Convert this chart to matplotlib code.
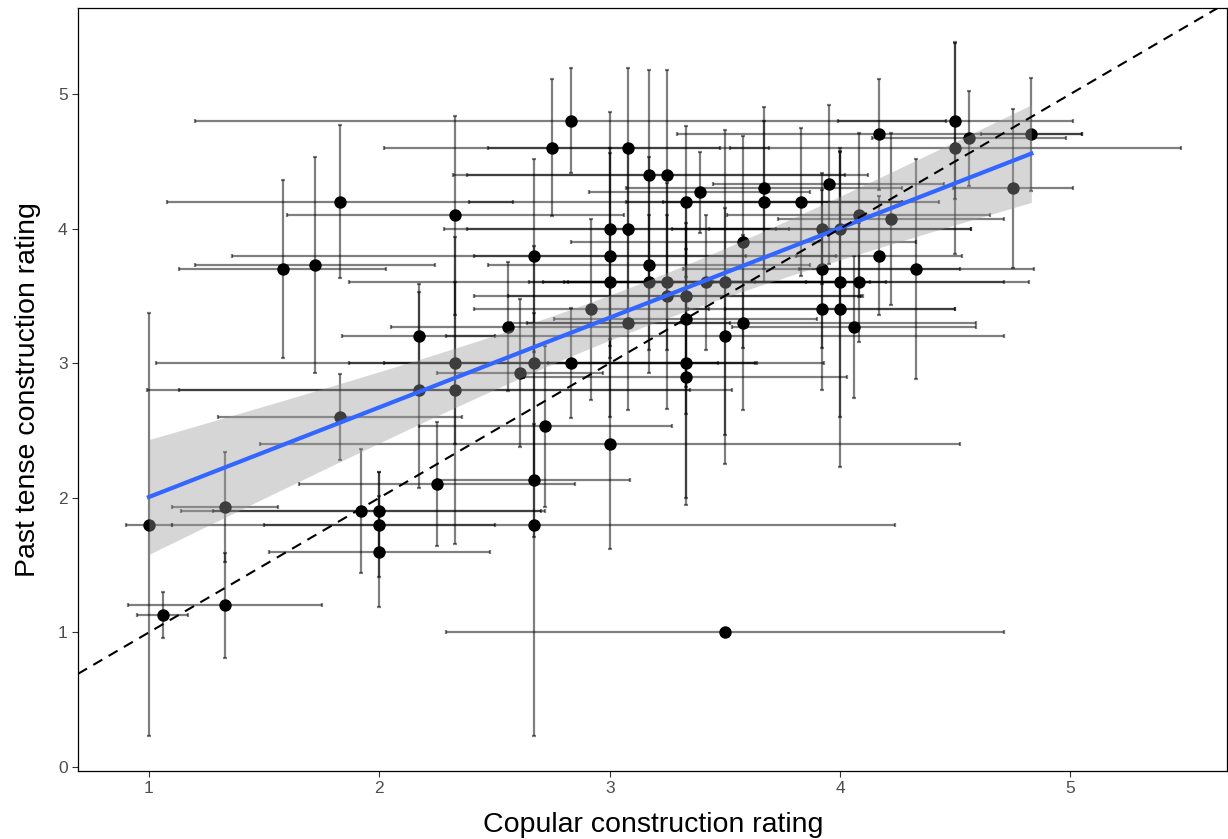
import numpy as np
import matplotlib
matplotlib.use("Agg")
import matplotlib.pyplot as plt

# ---- data (copular rating x, past tense rating y, and their error half-widths) ----
copular = [1.00, 1.06, 1.33, 1.33, 1.58, 1.72, 1.83, 1.83, 1.92, 2.00,
           2.00, 2.00, 2.17, 2.17, 2.25, 2.33, 2.33, 2.33, 2.56, 2.61,
           2.67, 2.67, 2.67, 2.67, 2.72, 2.75, 2.83, 2.83, 2.92, 3.00,
           3.00, 3.00, 3.00, 3.08, 3.08, 3.08, 3.17, 3.17, 3.17, 3.25,
           3.25, 3.25, 3.33, 3.33, 3.33, 3.33, 3.33, 3.39, 3.42, 3.50,
           3.50, 3.50, 3.58, 3.58, 3.67, 3.67, 3.83, 3.92, 3.92, 3.92,
           3.95, 4.00, 4.00, 4.00, 4.06, 4.08, 4.08, 4.17, 4.17, 4.22,
           4.33, 4.50, 4.50, 4.56, 4.75, 4.83]
past = [1.80, 1.13, 1.20, 1.93, 3.70, 3.73, 4.20, 2.60, 1.90, 1.90,
        1.80, 1.60, 3.20, 2.80, 2.10, 4.10, 3.00, 2.80, 3.27, 2.93,
        3.00, 3.80, 2.13, 1.80, 2.53, 4.60, 4.80, 3.00, 3.40, 4.00,
        3.80, 3.60, 2.40, 4.60, 4.00, 3.30, 4.40, 3.73, 3.60, 4.40,
        3.60, 3.50, 4.20, 3.50, 3.33, 3.00, 2.90, 4.27, 3.60, 3.60,
        3.20, 1.00, 3.90, 3.30, 4.30, 4.20, 4.20, 4.00, 3.70, 3.40,
        4.33, 4.00, 3.60, 3.40, 3.27, 4.10, 3.60, 4.70, 3.80, 4.07,
        3.70, 4.80, 4.60, 4.67, 4.30, 4.70]
copular_err = [0.10, 0.11, 0.42, 0.23, 0.45, 0.52, 0.75, 0.53, 0.78, 0.72,
               0.50, 0.48, 0.33, 1.18, 0.60, 0.73, 1.30, 1.20, 0.51, 0.36,
               0.80, 1.31, 0.42, 1.57, 0.55, 0.73, 1.63, 0.81, 0.51, 0.72,
               0.59, 1.13, 1.52, 0.61, 0.70, 0.44, 0.85, 0.70, 0.46, 0.87,
               0.60, 0.84, 0.94, 0.77, 0.57, 0.60, 0.70, 0.48, 0.60, 0.70,
               1.21, 1.21, 0.75, 1.01, 0.60, 0.60, 0.60, 0.65, 0.60, 0.58,
               0.50, 0.57, 0.82, 0.50, 0.53, 0.57, 0.63, 0.88, 0.36, 0.49,
               0.51, 0.51, 0.98, 0.42, 0.26, 0.22]
past_err = [1.57, 0.17, 0.39, 0.41, 0.66, 0.80, 0.57, 0.32, 0.46, 0.29,
            0.39, 0.41, 0.39, 0.73, 0.46, 0.74, 0.60, 1.14, 0.48, 0.55,
            0.87, 0.72, 0.42, 1.57, 0.60, 0.51, 0.39, 0.41, 0.67, 0.87,
            0.76, 1.00, 0.78, 0.59, 0.60, 0.65, 0.78, 0.80, 0.50, 0.78,
            0.50, 0.84, 0.56, 0.68, 0.71, 1.00, 0.95, 0.30, 0.50, 1.13,
            0.95, 0.00, 0.79, 0.65, 0.60, 0.60, 0.55, 0.41, 0.59, 0.60,
            0.59, 0.58, 1.00, 1.17, 0.53, 0.61, 0.44, 0.41, 0.44, 0.64,
            0.82, 0.58, 0.79, 0.35, 0.59, 0.42]

x_ticks = [1, 2, 3, 4, 5]
y_ticks = [0, 1, 2, 3, 4, 5]
x_label = "Copular construction rating"
y_label = "Past tense construction rating"

x = np.array(copular)
y = np.array(past)
xe = np.array(copular_err)
ye = np.array(past_err)

plt.rcParams['font.family'] = ['Liberation Sans', 'DejaVu Sans']

fig = plt.figure(figsize=(12.28, 8.39), dpi=100)
ax = fig.add_axes([78/1228, 1 - 771/839, 1 - 78/1228 - 0.0005, (771 - 8)/839])

# error bars
ax.errorbar(x, y, xerr=xe, yerr=ye, fmt='none', ecolor='black', alpha=0.5,
            elinewidth=1.6, capsize=1.5, capthick=1.6, zorder=2)
# points
ax.scatter(x, y, s=80, color='black', zorder=3, linewidths=0)

# linear fit with 95% CI (like geom_smooth(method='lm'))
n = len(x)
b, a = np.polyfit(x, y, 1)
xs = np.linspace(x.min(), x.max(), 200)
yhat = a + b * xs
resid = y - (a + b * x)
s = np.sqrt(np.sum(resid ** 2) / (n - 2))
sxx = np.sum((x - x.mean()) ** 2)
se = s * np.sqrt(1.0 / n + (xs - x.mean()) ** 2 / sxx)
tval = 1.9925  # t(0.975, df ~ 74)
ax.fill_between(xs, yhat - tval * se, yhat + tval * se, color='#999999',
                alpha=0.4, linewidth=0, zorder=4)
ax.plot(xs, yhat, color='#3366FF', linewidth=3.0, zorder=5)

# identity line
ax.axline((0, 0), slope=1, color='black', linestyle=(0, (5, 3.5)), linewidth=1.5, zorder=6)

ax.set_xlim(0.692, 5.681)
ax.set_ylim(-0.03, 5.639)
ax.set_xticks(x_ticks)
ax.set_yticks(y_ticks)
ax.set_xticklabels([str(t) for t in x_ticks])
ax.set_yticklabels([str(t) for t in y_ticks])
ax.tick_params(axis='both', colors='#333333', labelcolor='#4D4D4D', labelsize=12.5,
               length=4, width=0.8, direction='out')
for sp in ax.spines.values():
    sp.set_color('black')
    sp.set_linewidth(0.9)

ax.set_xlabel(x_label, fontsize=20.5, color='black', labelpad=11)
ax.set_ylabel(y_label, fontsize=20.5, color='black', labelpad=12)

fig.savefig("out.png", dpi=100)
